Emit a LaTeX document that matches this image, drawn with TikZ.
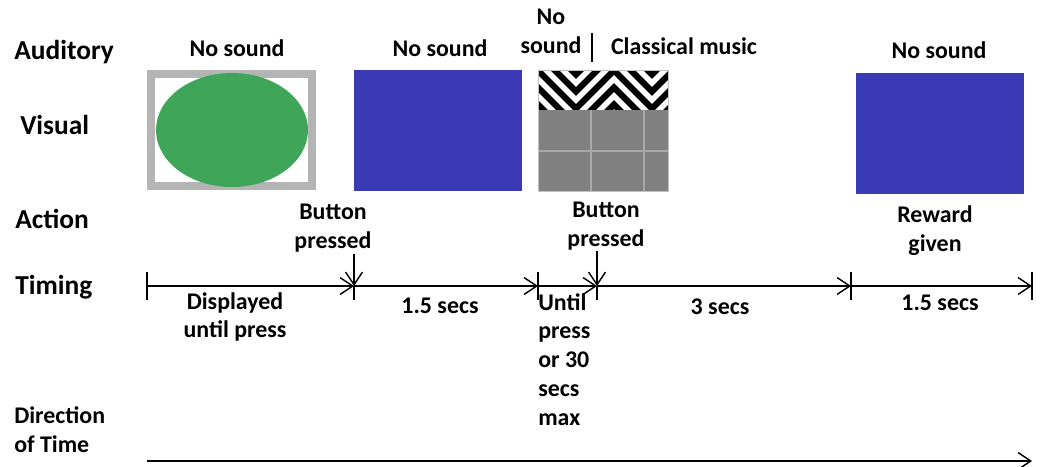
\documentclass[tikz,border=0pt]{standalone}
\usepackage{fontspec}
\setmainfont{Carlito}
\usepackage{xcolor}
\usetikzlibrary{positioning,calc,arrows.meta}
\definecolor{scrblue}{HTML}{3A3AB4}
\definecolor{scrgreen}{HTML}{3FA558}
\definecolor{framegray}{HTML}{B4B4B4}
\definecolor{gridgray}{HTML}{808080}
\definecolor{gridline}{HTML}{A8A8A8}

\begin{document}
\begin{tikzpicture}[
  x=0.025cm, y=-0.025cm,
  rowlab/.style={font=\fontsize{19.5}{23}\selectfont\bfseries, anchor=west, inner sep=0pt},
  sublab/.style={font=\fontsize{17}{20.5}\selectfont\bfseries, align=center, inner sep=0pt},
  timeline/.style={line width=1pt, -{Straight Barb[length=9pt,width=12pt,line width=1pt]}},
  tick/.style={line width=1pt},
  zig/.style={white, line width=4pt, line join=miter},
]
% pixel grid: 1040 x 467, y pointing down
\useasboundingbox (0,0) rectangle (1040,467);

% row labels
\node[rowlab] (aud) at (14,52)  {Auditory};
\node[rowlab] (vis) at (20,125) {Visual};
\node[rowlab] (act) at (15,219) {Action};
\node[rowlab] (tim) at (15,287) {Timing};
\node[sublab, anchor=west, align=left] (dir) at (14,430) {Direction\\of Time};

% screens
\fill[framegray] (147,70) rectangle (316,190);
\fill[white] (155,78) rectangle (308,182);
\fill[scrgreen] (232,130) ellipse [x radius=76, y radius=57];
\fill[scrblue] (354,70) rectangle (522,191);
\begin{scope}
  \clip (538,70) rectangle (668,110);
  \fill[black] (538,70) rectangle (668,110);
  \foreach \k in {-3,...,3} {
    \draw[zig] (500,{100+17*\k}) -- ++(38,-38) -- ++(38,38) -- ++(38,-38) -- ++(38,38) -- ++(38,-38);
  }
\end{scope}
\fill[gridgray] (538,110) rectangle (668,191);
\draw[gridline, line width=1.2pt] (591,110) -- (591,191) (644,110) -- (644,191) (538,151) -- (668,151);
\draw[gridline!70, line width=0.6pt] (538,70) rectangle (668,191);
\fill[scrblue] (856,73) rectangle (1024,194);

% auditory
\node[sublab] (snd1) at (237,48) {No sound};
\node[sublab] (snd2) at (440,48) {No sound};
\node[sublab] (snd3) at (551,31) {No\\sound};
\node[sublab] (mus)  at (684,46) {Classical music};
\node[sublab] (snd4) at (939,50) {No sound};
\draw[line width=1pt] (592,33) -- (592,62);

% action
\node[sublab] (btn1) at (333,228) {Button\\pressed};
\node[sublab] (btn2) at (606,226) {Button\\pressed};
\node[sublab] (rew)  at (935,231) {Reward\\given};

% timing line
\foreach \n/\x in {t0/147,t1/354,t2/538,t3/597,t4/851,t5/1032}
  \coordinate (\n) at (\x,286);
\foreach \a/\b in {t0/t1,t1/t2,t2/t3,t3/t4,t4/t5}
  \draw[timeline] (\a) -- (\b);
\foreach \n in {t0,t2,t4,t5}
  \draw[tick] ($(\n)+(0,-14)$) -- ($(\n)+(0,14)$);
\foreach \n in {t1,t3}
  \draw[tick] (\n) -- ($(\n)+(0,14)$);
\coordinate (p1) at (354,254);
\coordinate (p2) at (597,251);
\draw[timeline] (p1) -- (t1);
\draw[timeline] (p2) -- (t3);

% durations
\node[sublab] (dur1) at (235,317) {Displayed\\until press};
\node[sublab] (dur2) at (440,306) {1.5 secs};
\node[sublab, anchor=north west, align=left, text depth=0pt] (dur3) at (538,293) {Until\\press\\or 30\\secs\\max};
\node[sublab] (dur4) at (720,307) {3 secs};
\node[sublab] (dur5) at (940,303) {1.5 secs};

% direction of time
\coordinate (d0) at (147,461);
\coordinate (d1) at (1032,461);
\draw[timeline] (d0) -- (d1);
\end{tikzpicture}
\end{document}
